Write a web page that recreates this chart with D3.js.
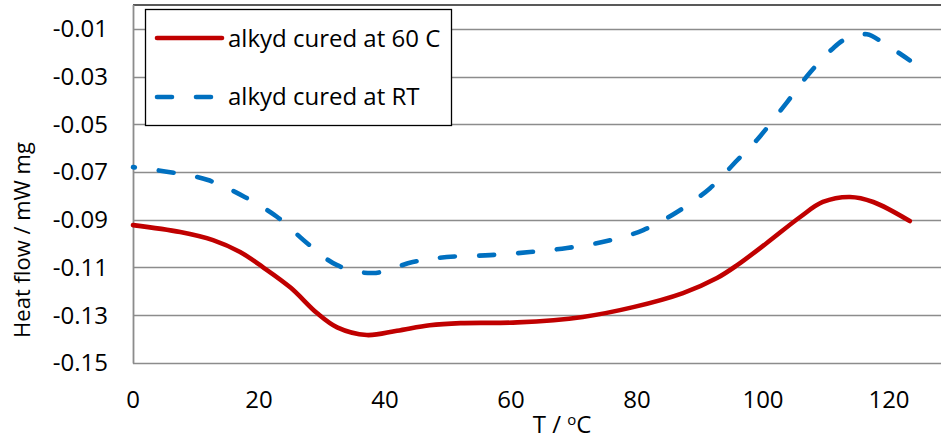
<!DOCTYPE html>
<html>
<head>
<meta charset="utf-8">
<script src="https://cdn.jsdelivr.net/npm/d3@7"></script>
<style>
  body { margin: 0; background: #fff; }
  text { font-family: "Open Sans", "Liberation Sans", sans-serif; fill: #000; }
</style>
</head>
<body>
<script>
var width = 941,
    height = 439;

// series
var temp60 = [0, 7.5, 12.7, 17, 20.6, 25, 29.2, 32.4, 37.1, 41.9, 47.1, 52, 61, 71.4, 79.4, 87.3, 92.7, 95.9, 100.6, 105.9, 109.5, 113.8, 117.5, 123.3];
var flow60 = [-0.0923, -0.0952, -0.0986, -0.1036, -0.1099, -0.1185, -0.1292, -0.1352, -0.1384, -0.1366, -0.1343, -0.1334, -0.1331, -0.1308, -0.1267, -0.1208, -0.1145, -0.1091, -0.0998, -0.0889, -0.0826, -0.0805, -0.0826, -0.0906];

var tempRT = [0, 5.9, 11.9, 17.8, 22.9, 27.6, 32.4, 38.1, 44.4, 49.8, 56.7, 63, 68.9, 75.2, 81, 86.3, 91.6, 95.9, 99, 103.8, 107.5, 111.1, 113.3, 116.5, 119, 123.3];
var flowRT = [-0.0680, -0.0701, -0.0734, -0.0806, -0.0889, -0.0998, -0.1091, -0.1124, -0.1078, -0.1057, -0.1049, -0.1036, -0.1019, -0.0990, -0.0944, -0.0869, -0.0768, -0.0651, -0.0567, -0.0408, -0.0282, -0.0182, -0.0140, -0.0123, -0.0157, -0.0232];

var xTicks = [0, 20, 40, 60, 80, 100, 120];
var yTicks = [-0.15, -0.13, -0.11, -0.09, -0.07, -0.05, -0.03, -0.01];
var seriesNames = ["alkyd cured at 60 C", "alkyd cured at RT"];

var svg = d3.select("body").append("svg")
    .attr("width", width)
    .attr("height", height);

var x = d3.scaleLinear().domain([0, 120]).range([133, 889]);
var y = d3.scaleLinear().domain([-0.15, 0]).range([362.7, 5]);

// horizontal gridlines
svg.append("g")
    .selectAll("line")
    .data(yTicks)
    .join("line")
    .attr("x1", 133)
    .attr("x2", width)
    .attr("y1", function (d) { return Math.round(y(d)) + 0.5; })
    .attr("y2", function (d) { return Math.round(y(d)) + 0.5; })
    .attr("stroke", "#8c8c8c")
    .attr("stroke-width", 1.6);

// top frame line
svg.append("line")
    .attr("x1", 133).attr("x2", width)
    .attr("y1", 5).attr("y2", 5)
    .attr("stroke", "#222")
    .attr("stroke-width", 1.5);

// y axis line
svg.append("line")
    .attr("x1", 133.5).attr("x2", 133.5)
    .attr("y1", 5).attr("y2", 363.5)
    .attr("stroke", "#8c8c8c")
    .attr("stroke-width", 1.8);

// y tick labels
svg.append("g")
    .selectAll("text")
    .data(yTicks)
    .join("text")
    .attr("x", 108)
    .attr("y", function (d) { return y(d) + 8.5; })
    .attr("text-anchor", "end")
    .style("font-size", "24px")
    .text(function (d) { return d.toFixed(2); });

// x tick labels
svg.append("g")
    .selectAll("text")
    .data(xTicks)
    .join("text")
    .attr("x", function (d) { return x(d); })
    .attr("y", 408)
    .attr("text-anchor", "middle")
    .style("font-size", "24px")
    .text(function (d) { return d; });

// axis titles
svg.append("text")
    .attr("transform", "translate(30,240) rotate(-90)")
    .attr("text-anchor", "middle")
    .style("font-size", "22px")
    .text("Heat flow / mW mg");

var xt = svg.append("text")
    .attr("x", 562)
    .attr("y", 433)
    .attr("text-anchor", "middle")
    .style("font-size", "24px");
xt.append("tspan").text("T / ");
xt.append("tspan").attr("dy", -8).style("font-size", "15px").text("o");
xt.append("tspan").attr("dy", 8).text("C");

// curves
var line = d3.line()
    .x(function (d) { return x(d[0]); })
    .y(function (d) { return y(d[1]); })
    .curve(d3.curveCatmullRom.alpha(0.5));

svg.append("path")
    .datum(d3.zip(temp60, flow60))
    .attr("fill", "none")
    .attr("stroke", "#c00000")
    .attr("stroke-width", 4.6)
    .attr("stroke-linecap", "round")
    .attr("d", line);

svg.append("path")
    .datum(d3.zip(tempRT, flowRT))
    .attr("fill", "none")
    .attr("stroke", "#0070c0")
    .attr("stroke-width", 4.6)
    .attr("stroke-linecap", "round")
    .attr("stroke-dasharray", "15,24")
    .attr("stroke-dashoffset", 13)
    .attr("d", line);

// legend
var legend = svg.append("g");
legend.append("rect")
    .attr("x", 145.5).attr("y", 9.5)
    .attr("width", 306).attr("height", 116)
    .attr("fill", "#fff")
    .attr("stroke", "#000")
    .attr("stroke-width", 1.3);

legend.append("line")
    .attr("x1", 157).attr("x2", 222)
    .attr("y1", 38).attr("y2", 38)
    .attr("stroke", "#c00000")
    .attr("stroke-width", 4.6)
    .attr("stroke-linecap", "round");
legend.append("line")
    .attr("x1", 157).attr("x2", 216)
    .attr("y1", 97).attr("y2", 97)
    .attr("stroke", "#0070c0")
    .attr("stroke-width", 4.6)
    .attr("stroke-linecap", "round")
    .attr("stroke-dasharray", "15,24");

legend.selectAll("text.lbl")
    .data(seriesNames)
    .join("text")
    .attr("class", "lbl")
    .attr("x", 228)
    .attr("y", function (d, i) { return 47 + i * 58; })
    .style("font-size", "24px")
    .text(function (d) { return d; });
</script>
</body>
</html>
